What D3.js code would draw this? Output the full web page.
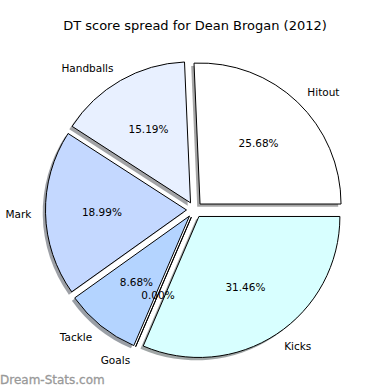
<!DOCTYPE html>
<html>
<head>
<meta charset="utf-8">
<script src="https://cdn.jsdelivr.net/npm/d3@7"></script>
<style>
  body { margin: 0; background: #fff; }
  text { font-family: "DejaVu Sans", sans-serif; }
</style>
</head>
<body>
<svg width="390" height="390"></svg>
<script>
const categories = ['Hitout', 'Handballs', 'Mark', 'Tackle', 'Goals', 'Kicks'];
const shares = [25.68, 15.19, 18.99, 8.68, 0.00, 31.46];
const colours = ['#ffffff', '#e8f0ff', '#c4d8ff', '#b4d4ff', '#b4d4ff', '#d8ffff'];

const svg = d3.select('svg');
const width = +svg.attr('width');
const height = +svg.attr('height');

const centre = {x: 194.5, y: 209.8};
const radius = 141;
const explode = 8;

const data = categories.map((c, i) => ({label: c, value: shares[i], colour: colours[i]}));

// matplotlib style: start at 3 o'clock, go counter-clockwise
const pie = d3.pie()
    .value(d => d.value)
    .sort(null)
    .startAngle(Math.PI / 2)
    .endAngle(Math.PI / 2 - 2 * Math.PI);

const arcs = pie(data);
const arc = d3.arc().innerRadius(0).outerRadius(radius);

// screen direction of the middle of a slice
const midDir = d => {
    const a = (d.startAngle + d.endAngle) / 2;
    return [Math.sin(a), -Math.cos(a)];
};

const g = svg.append('g')
    .attr('transform', `translate(${centre.x}, ${centre.y})`);

const slices = arcs.map(d => {
    const [dx, dy] = midDir(d);
    return {d, ox: dx * explode, oy: dy * explode, dx, dy};
});

// shadows first, behind every wedge
g.selectAll('path.shadow').data(slices)
    .enter().append('path')
        .attr('class', 'shadow')
        .attr('d', s => arc(s.d))
        .attr('transform', s => `translate(${s.ox - 2.8}, ${s.oy + 2.8})`)
        .attr('fill', s => {
            const c = d3.rgb(s.d.data.colour);
            return d3.rgb(c.r * 0.3, c.g * 0.3, c.b * 0.3);
        })
        .attr('fill-opacity', 0.5);

g.selectAll('path.wedge').data(slices)
    .enter().append('path')
        .attr('class', 'wedge')
        .attr('d', s => arc(s.d))
        .attr('transform', s => `translate(${s.ox}, ${s.oy})`)
        .attr('fill', s => s.d.data.colour)
        .attr('stroke', '#000')
        .attr('stroke-width', 1)
        .attr('stroke-linejoin', 'miter');

// category labels
g.selectAll('text.label').data(slices)
    .enter().append('text')
        .attr('class', 'label')
        .attr('x', s => s.ox + s.dx * radius * 1.1)
        .attr('y', s => s.oy + s.dy * radius * 1.1)
        .attr('text-anchor', s => s.dx > 0 ? 'start' : 'end')
        .attr('dominant-baseline', 'central')
        .attr('font-size', 10.5)
        .attr('fill', '#000')
        .text(s => s.d.data.label);

// percentages
g.selectAll('text.pct').data(slices)
    .enter().append('text')
        .attr('class', 'pct')
        .attr('x', s => s.ox + s.dx * radius * 0.6)
        .attr('y', s => s.oy + s.dy * radius * 0.6)
        .attr('text-anchor', 'middle')
        .attr('dominant-baseline', 'central')
        .attr('font-size', 10.5)
        .attr('fill', '#000')
        .text(s => s.d.data.value.toFixed(2) + '%');

svg.append('text')
    .text('DT score spread for Dean Brogan (2012)')
    .attr('x', width / 2)
    .attr('y', 25)
    .attr('text-anchor', 'middle')
    .attr('dominant-baseline', 'central')
    .attr('font-size', 13)
    .attr('fill', '#000');

svg.append('text')
    .text('Dream-Stats.com')
    .attr('x', 0)
    .attr('y', height - 6)
    .attr('font-size', 12)
    .attr('fill', '#999')
    .attr('stroke', '#999')
    .attr('stroke-width', 0.3);
</script>
</body>
</html>
